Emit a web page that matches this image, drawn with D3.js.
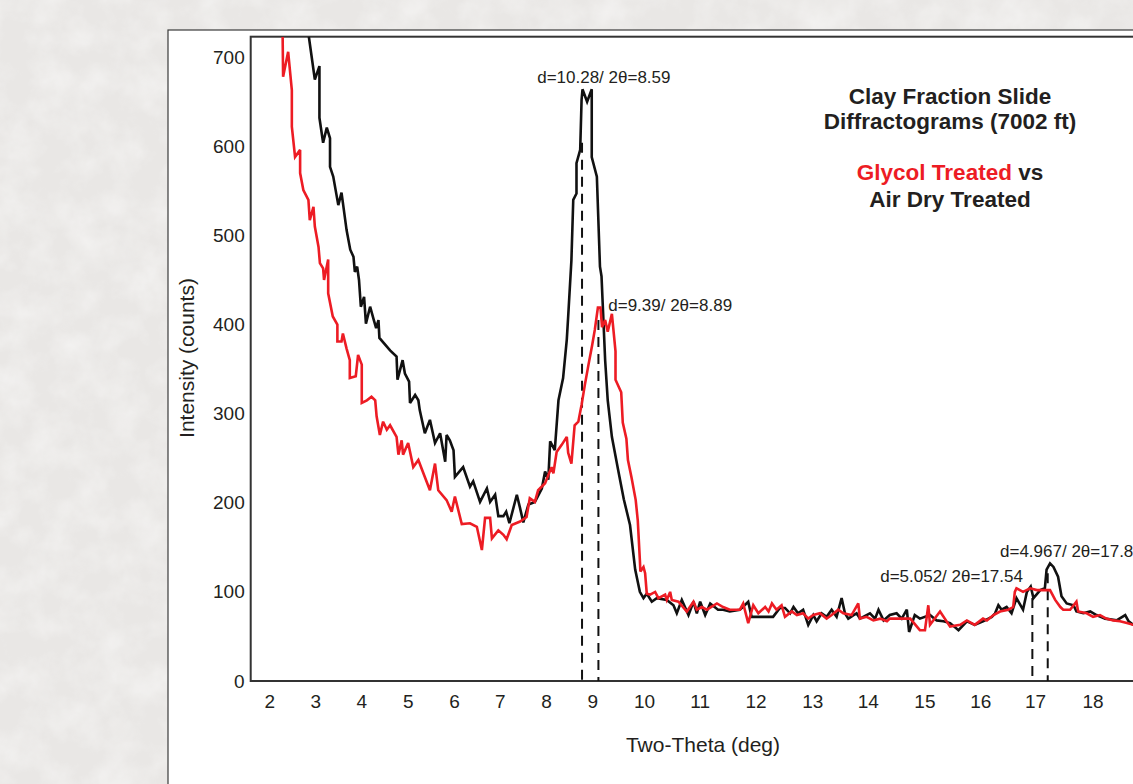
<!DOCTYPE html>
<html><head><meta charset="utf-8">
<script src="https://cdn.jsdelivr.net/npm/d3@7"></script>
<style>
html,body{margin:0;padding:0;background:#ebe9e7;overflow:hidden}
text{font-family:"Liberation Sans",Arial,Helvetica,sans-serif;fill:#231f20}
</style></head>
<body>
<svg id="chart" width="1133" height="784"></svg>
<script>
// ---------- data ----------
const xTicks = [2,3,4,5,6,7,8,9,10,11,12,13,14,15,16,17,18];
const yTicks = [0,100,200,300,400,500,600,700];
// axis breakpoints (two-theta) and their pixel offsets from the plot's left edge (the printed axis is not uniform)
const xBreaks = [1.6,2,3,4,5,6,7,8,9,10,11,12,13,14,15,16,17,18,19];
const xBreakOffsets = [0,18.6,64.6,110.6,157,203.3,249,295.3,341.5,393.3,448.9,504.8,561.5,617,673.7,729.6,784.4,841.8,899.2];

const airDry = [[2.86,723],[2.99,675],[3.09,690],[3.09,632],[3.17,604],[3.25,621],[3.32,609],[3.32,577],[3.39,566],[3.50,534],[3.57,548],[3.68,506],[3.76,484],[3.83,476],[3.86,459],[3.91,465],[3.95,450],[3.99,420],[4.06,431],[4.10,401],[4.19,420],[4.27,405],[4.32,396],[4.37,405],[4.39,385],[4.62,371],[4.76,364],[4.78,338],[4.89,360],[4.94,345],[5.03,336],[5.05,312],[5.16,321],[5.23,315],[5.26,304],[5.37,278],[5.48,293],[5.59,267],[5.70,278],[5.81,246],[5.84,276],[5.91,270],[5.99,259],[6.02,229],[6.20,240],[6.35,218],[6.42,224],[6.57,201],[6.72,216],[6.79,201],[6.90,209],[6.97,185],[7.08,185],[7.14,190],[7.21,177],[7.37,209],[7.44,194],[7.51,178],[7.62,198],[7.76,201],[7.91,216],[7.98,235],[8.05,226],[8.09,269],[8.19,259],[8.27,315],[8.37,340],[8.45,383],[8.48,409],[8.55,472],[8.59,540],[8.66,547],[8.66,581],[8.74,596],[8.77,652],[8.79,664],[8.89,650],[8.99,664],[8.99,588],[9.09,566],[9.15,465],[9.18,454],[9.25,360],[9.30,315],[9.38,274],[9.50,237],[9.61,204],[9.73,175],[9.83,125],[9.92,100],[9.99,93],[10.05,98],[10.14,89],[10.23,93],[10.41,91],[10.53,85],[10.59,76],[10.68,91],[10.80,74],[10.89,89],[10.95,76],[11.01,89],[11.10,74],[11.19,87],[11.33,80],[11.42,80],[11.54,78],[11.72,80],[11.87,89],[11.93,72],[12.14,72],[12.31,72],[12.43,82],[12.52,82],[12.61,76],[12.67,83],[12.75,76],[12.84,80],[12.93,63],[13.02,74],[13.08,67],[13.17,76],[13.26,72],[13.35,80],[13.44,72],[13.53,93],[13.59,76],[13.65,70],[13.80,76],[13.86,70],[14.04,76],[14.13,70],[14.19,80],[14.28,68],[14.39,74],[14.51,76],[14.60,70],[14.69,80],[14.73,55],[14.83,74],[14.92,70],[15.10,74],[15.22,68],[15.34,67],[15.46,65],[15.61,57],[15.76,67],[15.90,63],[16.05,67],[16.21,72],[16.27,76],[16.33,85],[16.39,80],[16.48,83],[16.57,76],[16.66,93],[16.78,80],[16.85,100],[16.92,106],[16.97,93],[17.09,102],[17.17,104],[17.20,125],[17.26,132],[17.32,128],[17.40,117],[17.46,95],[17.55,87],[17.67,85],[17.72,78],[17.84,76],[17.96,78],[18.07,74],[18.22,70],[18.42,68],[18.57,74],[18.63,67],[18.71,63]];

const glycol = [[2.29,723],[2.30,678],[2.41,706],[2.49,663],[2.49,622],[2.56,588],[2.67,596],[2.67,570],[2.74,551],[2.85,540],[2.88,517],[2.96,532],[2.99,510],[3.07,487],[3.10,469],[3.17,463],[3.19,450],[3.28,473],[3.28,435],[3.38,409],[3.48,400],[3.48,381],[3.57,381],[3.60,390],[3.68,373],[3.75,360],[3.75,340],[3.88,342],[3.93,366],[4.01,355],[4.01,312],[4.12,315],[4.22,319],[4.30,315],[4.33,297],[4.40,276],[4.47,291],[4.55,282],[4.62,287],[4.76,274],[4.80,254],[4.87,270],[4.90,254],[5.01,267],[5.12,240],[5.23,248],[5.37,229],[5.48,214],[5.59,244],[5.66,214],[5.84,203],[5.95,190],[6.02,207],[6.17,176],[6.35,177],[6.50,173],[6.61,147],[6.68,183],[6.79,183],[6.83,160],[6.97,169],[7.08,164],[7.15,159],[7.26,175],[7.44,179],[7.58,184],[7.65,205],[7.76,201],[7.83,214],[7.98,222],[8.12,240],[8.16,233],[8.23,257],[8.34,265],[8.45,274],[8.48,256],[8.55,244],[8.62,287],[8.70,291],[8.77,310],[8.84,332],[8.92,355],[9.00,377],[9.05,394],[9.11,419],[9.16,419],[9.19,397],[9.25,405],[9.30,392],[9.38,412],[9.45,370],[9.45,338],[9.56,324],[9.59,290],[9.66,272],[9.69,248],[9.76,228],[9.84,203],[9.88,180],[9.92,136],[9.93,123],[9.99,128],[10.02,121],[10.05,98],[10.11,97],[10.20,100],[10.26,93],[10.38,97],[10.41,91],[10.47,100],[10.50,91],[10.62,89],[10.77,78],[10.89,89],[10.95,80],[11.04,83],[11.13,80],[11.31,87],[11.42,83],[11.54,80],[11.72,80],[11.78,87],[11.87,65],[11.96,85],[12.05,76],[12.17,83],[12.23,78],[12.29,87],[12.37,80],[12.46,85],[12.52,72],[12.64,78],[12.73,74],[12.84,76],[12.93,70],[13.02,74],[13.14,76],[13.26,70],[13.35,74],[13.47,80],[13.56,76],[13.71,74],[13.83,87],[13.86,70],[13.98,72],[14.10,68],[14.22,70],[14.34,67],[14.39,70],[14.54,70],[14.75,70],[14.92,57],[15.01,57],[15.07,85],[15.10,63],[15.28,78],[15.46,61],[15.64,63],[15.76,68],[15.90,63],[16.05,70],[16.12,68],[16.24,74],[16.36,78],[16.51,80],[16.60,83],[16.63,100],[16.66,104],[16.78,100],[16.91,104],[17.03,102],[17.26,102],[17.35,91],[17.44,83],[17.49,80],[17.61,80],[17.72,89],[17.75,78],[17.90,76],[18.01,72],[18.13,74],[18.24,70],[18.36,68],[18.48,67],[18.60,65],[18.71,63]];

// peak marker lines: [two-theta, top count]
const peakMarkers = [[8.78,604],[9.12,405],[16.95,93],[17.22,121]];
// peak annotations: [text, two-theta of text start, count at baseline]
const annotations = [
  ["d=10.28/ 2\u03b8=8.59", 7.81, 671],
  ["d=9.39/ 2\u03b8=8.89", 9.31, 415.6],
  ["d=5.052/ 2\u03b8=17.54", 14.22, 110.8],
  ["d=4.967/ 2\u03b8=17.84", 16.36, 139.5]
];
const titleLines = ["Clay Fraction Slide","Diffractograms (7002 ft)"];
const seriesNames = {glycol:"Glycol Treated", airDry:"Air Dry Treated"};

// ---------- layout ----------
const W = 1133, H = 784;
const plotL = 250.7, plotT = 36.7, plotB = 681, plotR = 1170;
const RED = "#ed1c24", BLACK = "#111111";

const svg = d3.select("#chart");
const defs = svg.append("defs");
const f = defs.append("filter").attr("id","mottle").attr("x",0).attr("y",0).attr("width","100%").attr("height","100%");
f.append("feTurbulence").attr("type","fractalNoise").attr("baseFrequency","0.03").attr("numOctaves",4).attr("seed",11);
f.append("feColorMatrix").attr("type","matrix").attr("values","0 0 0 0 1  0 0 0 0 1  0 0 0 0 1  0 0 0 1.4 -0.5");
defs.append("clipPath").attr("id","plotclip").append("rect")
  .attr("x",plotL).attr("y",plotT).attr("width",plotR-plotL).attr("height",plotB-plotT);

svg.append("rect").attr("width",W).attr("height",H).attr("fill","#e9e7e5");
svg.append("rect").attr("width",W).attr("height",H).attr("filter","url(#mottle)").attr("opacity",0.55);

// white panel
svg.append("rect").attr("x",168).attr("y",30).attr("width",1100).attr("height",900)
  .attr("fill","#fff").attr("stroke","#3a3a3a").attr("stroke-width",1.2);

// scales
const x = d3.scaleLinear().domain(xBreaks).range(xBreakOffsets.map(o => plotL + o));
const y = d3.scaleLinear().domain([0,723]).range([plotB, plotT]);

// frame
svg.append("rect").attr("x",plotL).attr("y",plotT).attr("width",plotR-plotL).attr("height",plotB-plotT)
  .attr("fill","none").attr("stroke","#333").attr("stroke-width",2);

// axes
const gx = svg.append("g").attr("transform",`translate(0,${plotB})`)
  .call(d3.axisBottom(x).tickValues(xTicks).tickSize(0).tickPadding(14).tickFormat(d3.format("d")));
const gy = svg.append("g").attr("transform",`translate(${plotL},0)`)
  .call(d3.axisLeft(y).tickValues(yTicks).tickSize(0).tickPadding(6).tickFormat(d3.format("d")));
[gx,gy].forEach(g => {
  g.select(".domain").remove();
  g.selectAll("text").attr("font-size",19).attr("font-family",null).style("fill","#231f20");
});

svg.append("text").attr("x",703).attr("y",752).attr("text-anchor","middle")
  .attr("font-size",21).text("Two-Theta (deg)");
svg.append("text").attr("transform","translate(194,358) rotate(-90)").attr("text-anchor","middle")
  .attr("font-size",21).text("Intensity (counts)");

// lines
const line = d3.line().x(d => x(d[0])).y(d => y(d[1]));
const plot = svg.append("g").attr("clip-path","url(#plotclip)");
plot.selectAll("line.marker").data(peakMarkers).join("line")
  .attr("x1",d=>x(d[0])).attr("x2",d=>x(d[0])).attr("y1",d=>y(d[1])).attr("y2",y(0))
  .attr("stroke",BLACK).attr("stroke-width",2).attr("stroke-dasharray","10,7");
plot.append("path").datum(airDry).attr("d",line).attr("fill","none")
  .attr("stroke",BLACK).attr("stroke-width",2.6).attr("stroke-linejoin","miter").attr("stroke-miterlimit",3);
plot.append("path").datum(glycol).attr("d",line).attr("fill","none")
  .attr("stroke",RED).attr("stroke-width",2.6).attr("stroke-linejoin","miter").attr("stroke-miterlimit",3);

// annotations
svg.selectAll("text.ann").data(annotations).join("text").attr("class","ann")
  .attr("x",d=>x(d[1])).attr("y",d=>y(d[2])).attr("font-size",17).text(d=>d[0]);

// title
const tcx = 950;
svg.append("text").attr("x",tcx).attr("y",103.5).attr("text-anchor","middle").attr("font-size",22.5).attr("font-weight","bold").text(titleLines[0]);
svg.append("text").attr("x",tcx).attr("y",128.5).attr("text-anchor","middle").attr("font-size",22.5).attr("font-weight","bold").text(titleLines[1]);
const t3 = svg.append("text").attr("x",tcx).attr("y",180).attr("text-anchor","middle").attr("font-size",22.5).attr("font-weight","bold");
t3.append("tspan").style("fill",RED).text(seriesNames.glycol);
t3.append("tspan").text(" vs");
svg.append("text").attr("x",tcx).attr("y",206.5).attr("text-anchor","middle").attr("font-size",22.5).attr("font-weight","bold").text(seriesNames.airDry);
</script>
</body></html>
